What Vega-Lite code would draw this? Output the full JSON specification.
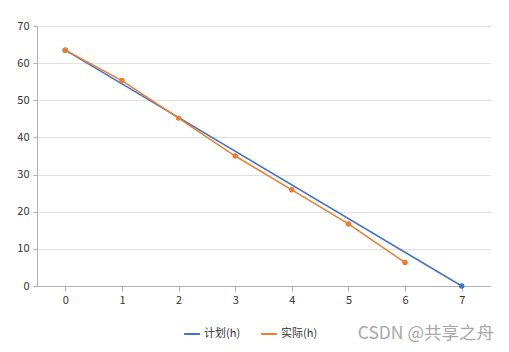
{
  "$schema": "https://vega.github.io/schema/vega-lite/v6.json",
  "width": 453,
  "height": 260,
  "autosize": "none",
  "padding": {"left": 37, "top": 26, "right": 19, "bottom": 66},
  "background": "white",
  "config": {"view": {"stroke": null}},
  "title": {
    "text": "CSDN @共享之舟",
    "orient": "bottom",
    "anchor": "end",
    "offset": 11,
    "dy": -25,
    "fontSize": 17.5,
    "font": "Noto Sans CJK SC",
    "fontWeight": "normal",
    "color": "#a8a8a8",
    "dx": 4
  },
  "data": {
    "values": [
      {"day": 0, "hours": 63.5, "series": "计划(h)"},
      {"day": 7, "hours": 0, "series": "计划(h)"},
      {"day": 0, "hours": 63.5, "series": "实际(h)"},
      {"day": 1, "hours": 55.3, "series": "实际(h)"},
      {"day": 2, "hours": 45.2, "series": "实际(h)"},
      {"day": 3, "hours": 35.0, "series": "实际(h)"},
      {"day": 4, "hours": 25.9, "series": "实际(h)"},
      {"day": 5, "hours": 16.7, "series": "实际(h)"},
      {"day": 6, "hours": 6.3, "series": "实际(h)"}
    ]
  },
  "mark": {"type": "line", "strokeWidth": 1.5, "point": {"filled": true, "size": 30}},
  "encoding": {
    "x": {
      "field": "day",
      "type": "quantitative",
      "scale": {"domain": [-0.5, 7.5], "nice": false, "zero": false},
      "axis": {
        "values": [0, 1, 2, 3, 4, 5, 6, 7],
        "title": null,
        "grid": false,
        "domainColor": "#b0b0b0",
        "tickColor": "#b0b0b0",
        "tickSize": 5,
        "labelFontSize": 11,
        "labelColor": "#333333",
        "labelFont": "Noto Sans CJK SC",
        "labelPadding": 3
      }
    },
    "y": {
      "field": "hours",
      "type": "quantitative",
      "scale": {"domain": [0, 70], "nice": false},
      "axis": {
        "values": [0, 10, 20, 30, 40, 50, 60, 70],
        "title": null,
        "gridColor": "#e0e0e0",
        "domainColor": "#b0b0b0",
        "tickColor": "#b0b0b0",
        "tickSize": 4,
        "labelFontSize": 11,
        "labelColor": "#333333",
        "labelFont": "Noto Sans CJK SC",
        "labelPadding": 4
      }
    },
    "color": {
      "field": "series",
      "type": "nominal",
      "scale": {"domain": ["计划(h)", "实际(h)"], "range": ["#4472C4", "#ED7D31"]},
      "legend": {
        "orient": "none",
        "legendX": 146,
        "legendY": 299,
        "direction": "horizontal",
        "title": null,
        "symbolType": "stroke",
        "symbolSize": 250,
        "symbolStrokeWidth": 2,
        "labelOffset": 3,
        "labelFontSize": 11,
        "labelFont": "Noto Sans CJK SC",
        "labelColor": "#333333",
        "columnPadding": 16
      }
    },
    "order": {"field": "day", "type": "quantitative"}
  }
}
